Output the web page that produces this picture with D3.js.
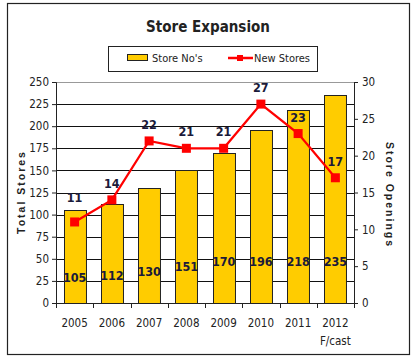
<!DOCTYPE html>
<html>
<head>
<meta charset="utf-8">
<script src="https://cdn.jsdelivr.net/npm/d3@7"></script>
<style>
  body { margin: 0; background: #fff; }
  svg { display: block; }
  text { font-family: "Liberation Sans Narrow", "DejaVu Sans Condensed", "Liberation Sans", Arial, sans-serif; font-stretch: condensed; }
</style>
</head>
<body>
<div id="chart"></div>
<script>
// data
var years = ["2005", "2006", "2007", "2008", "2009", "2010", "2011", "2012"];
var storeNos = [105, 112, 130, 151, 170, 196, 218, 235];
var newStores = [11, 14, 22, 21, 21, 27, 23, 17];
var leftTicks = [0, 25, 50, 75, 100, 125, 150, 175, 200, 225, 250];
var rightTicks = [0, 5, 10, 15, 20, 25, 30];

var W = 416, H = 359;
var margin = {top: 82, right: 62, bottom: 56, left: 56};
var width = W - margin.left - margin.right,
    height = H - margin.top - margin.bottom;

var svg = d3.select("#chart").append("svg")
  .attr("width", W)
  .attr("height", H);

// outer frame
svg.append("rect")
  .attr("x", 7.5).attr("y", 3.5)
  .attr("width", 402).attr("height", 351)
  .attr("fill", "#fff").attr("stroke", "#222").attr("stroke-width", 1.2);

svg.append("text")
  .attr("x", 208).attr("y", 32)
  .attr("text-anchor", "middle")
  .style("font-size", "15px").style("font-weight", "bold")
  .attr("fill", "#222")
  .text("Store Expansion");

// legend
var leg = svg.append("g");
leg.append("rect")
  .attr("x", 108.5).attr("y", 46.5).attr("width", 209).attr("height", 25)
  .attr("fill", "#fff").attr("stroke", "#222");
leg.append("rect")
  .attr("x", 127.5).attr("y", 54.5).attr("width", 20).attr("height", 6)
  .attr("fill", "#FFCC00").attr("stroke", "#222");
leg.append("text").attr("x", 152).attr("y", 62)
  .style("font-size", "11px").attr("fill", "#222").text("Store No's");
leg.append("line")
  .attr("x1", 228).attr("x2", 253).attr("y1", 58).attr("y2", 58)
  .attr("stroke", "red").attr("stroke-width", 2.5);
leg.append("rect")
  .attr("x", 237).attr("y", 55).attr("width", 6).attr("height", 6).attr("fill", "red");
leg.append("text").attr("x", 254).attr("y", 62)
  .style("font-size", "11px").attr("fill", "#222").text("New  Stores");

var g = svg.append("g").attr("transform", "translate(" + margin.left + "," + margin.top + ")");

var x = d3.scaleBand().domain(years).range([0, width]).paddingInner(0.41).paddingOuter(0.205);
var y = d3.scaleLinear().domain([0, 250]).range([height, 0]);
var y2 = d3.scaleLinear().domain([0, 30]).range([height, 0]);

// gridlines
g.selectAll(".grid")
  .data(leftTicks.slice(1))
  .enter().append("line")
  .attr("x1", 0).attr("x2", width)
  .attr("y1", function(d) { return Math.round(y(d)) + 0.5; })
  .attr("y2", function(d) { return Math.round(y(d)) + 0.5; })
  .attr("stroke", function(d) { return d === 250 ? "#999" : "#111"; })
  .attr("stroke-width", 1);

// bars
g.selectAll(".bar")
  .data(storeNos)
  .enter().append("rect")
  .attr("x", function(d, i) { return Math.round(x(years[i])) + 0.5; })
  .attr("y", function(d) { return Math.round(y(d)) + 0.5; })
  .attr("width", x.bandwidth())
  .attr("height", function(d) { return height - Math.round(y(d)); })
  .attr("fill", "#FFCC00").attr("stroke", "#222").attr("stroke-width", 1);

g.selectAll(".barlab")
  .data(storeNos)
  .enter().append("text")
  .attr("x", function(d, i) { return x(years[i]) + x.bandwidth() / 2; })
  .attr("y", function(d) { return y(Math.min(48, d * 0.28)) + 5; })
  .attr("text-anchor", "middle")
  .style("font-size", "12.5px").style("font-weight", "bold")
  .attr("fill", "#1a1a3a")
  .text(function(d) { return d; });

// axes
var axL = g.append("g")
  .call(d3.axisLeft(y).tickValues(leftTicks).tickSize(4).tickPadding(3));
var axR = g.append("g").attr("transform", "translate(" + width + ",0)")
  .call(d3.axisRight(y2).tickValues(rightTicks).tickSize(4).tickPadding(4));
var xBounds = d3.range(years.length + 1).map(function(i) { return i * width / years.length; });
var axB = g.append("g").attr("transform", "translate(0," + height + ")");
axB.append("line").attr("x1", 0).attr("x2", width).attr("y1", 0.5).attr("y2", 0.5).attr("stroke", "#222");
axB.selectAll(".xt").data(xBounds).enter().append("line")
  .attr("x1", function(d) { return Math.round(d) + 0.5; })
  .attr("x2", function(d) { return Math.round(d) + 0.5; })
  .attr("y1", 0).attr("y2", 5).attr("stroke", "#222");
axB.selectAll(".xl").data(years).enter().append("text")
  .attr("x", function(d) { return x(d) + x.bandwidth() / 2; })
  .attr("y", 24)
  .attr("text-anchor", "middle")
  .style("font-size", "11.5px").attr("fill", "#222")
  .text(function(d) { return d; });
axB.append("text")
  .attr("x", x("2012") + x.bandwidth() / 2).attr("y", 42)
  .attr("text-anchor", "middle")
  .style("font-size", "11.5px").attr("fill", "#222")
  .text("F/cast");

[axL, axR].forEach(function(a) {
  a.select(".domain").attr("stroke", "#222");
  a.selectAll(".tick line").attr("stroke", "#222");
  a.selectAll(".tick text").style("font-size", "11.5px").attr("fill", "#222")
    .style("font-family", "'Liberation Sans Narrow', 'DejaVu Sans Condensed', sans-serif");
});

// axis titles
svg.append("text")
  .attr("transform", "translate(25,192) rotate(-90)")
  .attr("text-anchor", "middle")
  .style("font-family", "'Liberation Sans', Arial, sans-serif")
  .style("font-size", "10.5px").style("font-weight", "bold").style("letter-spacing", "2px")
  .attr("fill", "#222")
  .text("Total Stores");
svg.append("text")
  .attr("transform", "translate(386,195) rotate(90)")
  .attr("text-anchor", "middle")
  .style("font-family", "'Liberation Sans', Arial, sans-serif")
  .style("font-size", "10.5px").style("font-weight", "bold").style("letter-spacing", "2px")
  .attr("fill", "#222")
  .text("Store Openings");

// line series
var cx = function(d, i) { return x(years[i]) + x.bandwidth() / 2; };
var line = d3.line().x(cx).y(function(d) { return y2(d); });
g.append("path")
  .datum(newStores)
  .attr("d", line)
  .attr("fill", "none").attr("stroke", "red").attr("stroke-width", 2.2);
g.selectAll(".mk")
  .data(newStores)
  .enter().append("rect")
  .attr("x", function(d, i) { return cx(d, i) - 4.5; })
  .attr("y", function(d) { return y2(d) - 4.5; })
  .attr("width", 9).attr("height", 9)
  .attr("fill", "red");
g.selectAll(".lnlab")
  .data(newStores)
  .enter().append("text")
  .attr("x", cx)
  .attr("y", function(d, i) {
    var ly = y2(d) - 12, top = y(storeNos[i]);
    // lift labels that would sit on a bar's top edge
    return Math.abs(ly - top) < 6 ? top - 8 : ly;
  })
  .attr("text-anchor", "middle")
  .style("font-size", "12.5px").style("font-weight", "bold")
  .attr("fill", "#1a1a3a")
  .text(function(d) { return d; });
</script>
</body>
</html>
